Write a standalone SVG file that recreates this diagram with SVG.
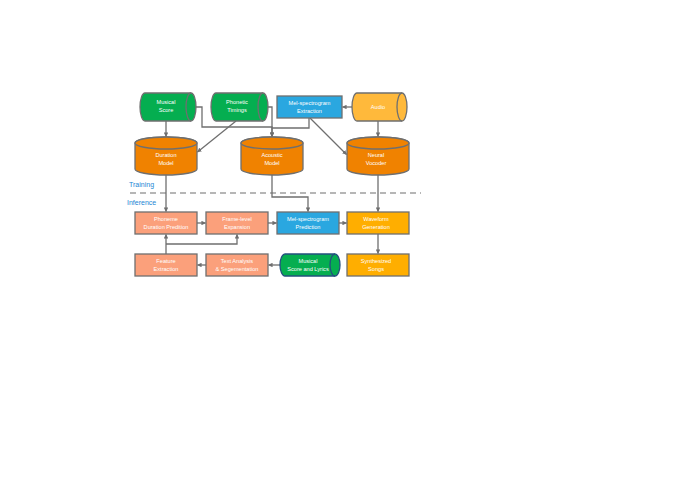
<svg xmlns="http://www.w3.org/2000/svg" width="675" height="478" viewBox="0 0 675 478">
<defs>
<marker id="ah" viewBox="0 0 10 10" refX="9" refY="5" markerWidth="4.5" markerHeight="4.5" orient="auto" markerUnits="userSpaceOnUse">
<path d="M0,0 L10,5 L0,10 z" fill="#6f6f6f"/>
</marker>
<style>
.n{stroke:#6f6f6f;stroke-width:1.3}
.g{fill:#05ae50}
.o{fill:#f08200}
.s{fill:#fba07b}
.b{fill:#2aa7e0}
.y{fill:#ffb93b}
.w{fill:#ffae00}
.t{fill:#fff;font-family:"Liberation Sans",Arial,sans-serif;font-size:5.6px;text-anchor:middle}
.c{fill:none;stroke:#6f6f6f;stroke-width:1.3}
.a{marker-end:url(#ah)}
.lbl{fill:#1c86d4;font-family:"Liberation Sans",Arial,sans-serif;font-size:7px}
</style>
</defs>
<rect width="675" height="478" fill="#fff"/>
<g id="connectors">
<path class="c a" d="M166,121 V136.5"/>
<path class="c a" d="M196,107 H202 V127 H272 V136.5"/>
<path class="c a" d="M268,107 H272 V136.5"/>
<path class="c a" d="M236,121 L197.5,152"/>
<path class="c" d="M309,118 V128 H272"/>
<path class="c a" d="M310,118 L346.5,154.5"/>
<path class="c a" d="M352,107 H342.5"/>
<path class="c a" d="M378,121 V136.5"/>
<path class="c a" d="M166,175 V211.5"/>
<path class="c a" d="M272,175 V197 H308 V211.5"/>
<path class="c a" d="M378,175 V211.5"/>
<path class="c a" d="M197,223 H205.5"/>
<path class="c a" d="M268,223 H276.5"/>
<path class="c a" d="M339,223 H346.5"/>
<path class="c a" d="M378,234 V253.5"/>
<path class="c a" d="M280,265 H268.5"/>
<path class="c a" d="M206,265 H197.5"/>
<path class="c a" d="M166,254 V234.5"/>
<path class="c a" d="M166,244 H237 V234.5"/>
<path d="M130,193 H421" fill="none" stroke="#6f6f6f" stroke-width="1.2" stroke-dasharray="6,4"/>
</g>
<text class="lbl" x="129" y="187">Training</text>
<text class="lbl" x="127" y="205">Inference</text>
<g id="musical-score">
<path class="n g" d="M145,93 H191 A5,14 0 0 1 191,121 H145 A5,14 0 0 1 145,93 Z"/>
<path class="n" fill="none" d="M191,93 A5,14 0 0 0 191,121"/>
<text class="t" x="166" y="104">Musical</text>
<text class="t" x="166" y="112">Score</text>
</g>
<g id="phonetic-timings">
<path class="n g" d="M216,93 H263 A5,14 0 0 1 263,121 H216 A5,14 0 0 1 216,93 Z"/>
<path class="n" fill="none" d="M263,93 A5,14 0 0 0 263,121"/>
<text class="t" x="237" y="104">Phonetic</text>
<text class="t" x="237" y="112">Timings</text>
</g>
<g id="mel-extraction">
<rect class="n b" x="277" y="96" width="65" height="22"/>
<text class="t" x="309.5" y="105">Mel-spectrogram</text>
<text class="t" x="309.5" y="113">Extraction</text>
</g>
<g id="audio">
<path class="n y" d="M357,93 H402 A5,14 0 0 1 402,121 H357 A5,14 0 0 1 357,93 Z"/>
<path class="n" fill="none" d="M402,93 A5,14 0 0 0 402,121"/>
<text class="t" x="378" y="109">Audio</text>
</g>
<g id="duration-model">
<path class="n o" d="M135,143 V169 A31,6 0 0 0 197,169 V143 A31,6 0 0 0 135,143 Z"/>
<ellipse class="n o" cx="166" cy="143" rx="31" ry="6"/>
<text class="t" x="166" y="157">Duration</text>
<text class="t" x="166" y="165">Model</text>
</g>
<g id="acoustic-model">
<path class="n o" d="M241,143 V169 A31,6 0 0 0 303,169 V143 A31,6 0 0 0 241,143 Z"/>
<ellipse class="n o" cx="272" cy="143" rx="31" ry="6"/>
<text class="t" x="272" y="157">Acoustic</text>
<text class="t" x="272" y="165">Model</text>
</g>
<g id="neural-vocoder">
<path class="n o" d="M347,143 V169 A31,6 0 0 0 409,169 V143 A31,6 0 0 0 347,143 Z"/>
<ellipse class="n o" cx="378" cy="143" rx="31" ry="6"/>
<text class="t" x="376" y="157">Neural</text>
<text class="t" x="376" y="165">Vocoder</text>
</g>
<g id="phoneme-duration">
<rect class="n s" x="135" y="212" width="62" height="22"/>
<text class="t" x="166" y="221">Phoneme</text>
<text class="t" x="166" y="229">Duration Predition</text>
</g>
<g id="frame-expansion">
<rect class="n s" x="206" y="212" width="62" height="22"/>
<text class="t" x="237" y="221">Frame-level</text>
<text class="t" x="237" y="229">Expansion</text>
</g>
<g id="mel-prediction">
<rect class="n b" x="277" y="212" width="62" height="22"/>
<text class="t" x="308" y="221">Mel-spectrogram</text>
<text class="t" x="308" y="229">Prediction</text>
</g>
<g id="waveform-generation">
<rect class="n w" x="347" y="212" width="62" height="22"/>
<text class="t" x="376" y="221">Waveform</text>
<text class="t" x="376" y="229">Generation</text>
</g>
<g id="feature-extraction">
<rect class="n s" x="135" y="254" width="62" height="22"/>
<text class="t" x="166" y="263">Feature</text>
<text class="t" x="166" y="271">Extraction</text>
</g>
<g id="text-analysis">
<rect class="n s" x="206" y="254" width="62" height="22"/>
<text class="t" x="237" y="263">Text Analysis</text>
<text class="t" x="237" y="271">&amp; Segementation</text>
</g>
<g id="score-lyrics">
<path class="g" stroke="#23507e" stroke-width="1.3" d="M285,254 H335 A5,11 0 0 1 335,276 H285 A5,11 0 0 1 285,254 Z"/>
<path fill="none" stroke="#23507e" stroke-width="1.3" d="M335,254 A5,11 0 0 0 335,276"/>
<text class="t" x="308" y="263">Musical</text>
<text class="t" x="308" y="271">Score and Lyrics</text>
</g>
<g id="synthesized-songs">
<rect class="n w" x="347" y="254" width="62" height="22"/>
<text class="t" x="376" y="263">Synthesized</text>
<text class="t" x="376" y="271">Songs</text>
</g>
</svg>
